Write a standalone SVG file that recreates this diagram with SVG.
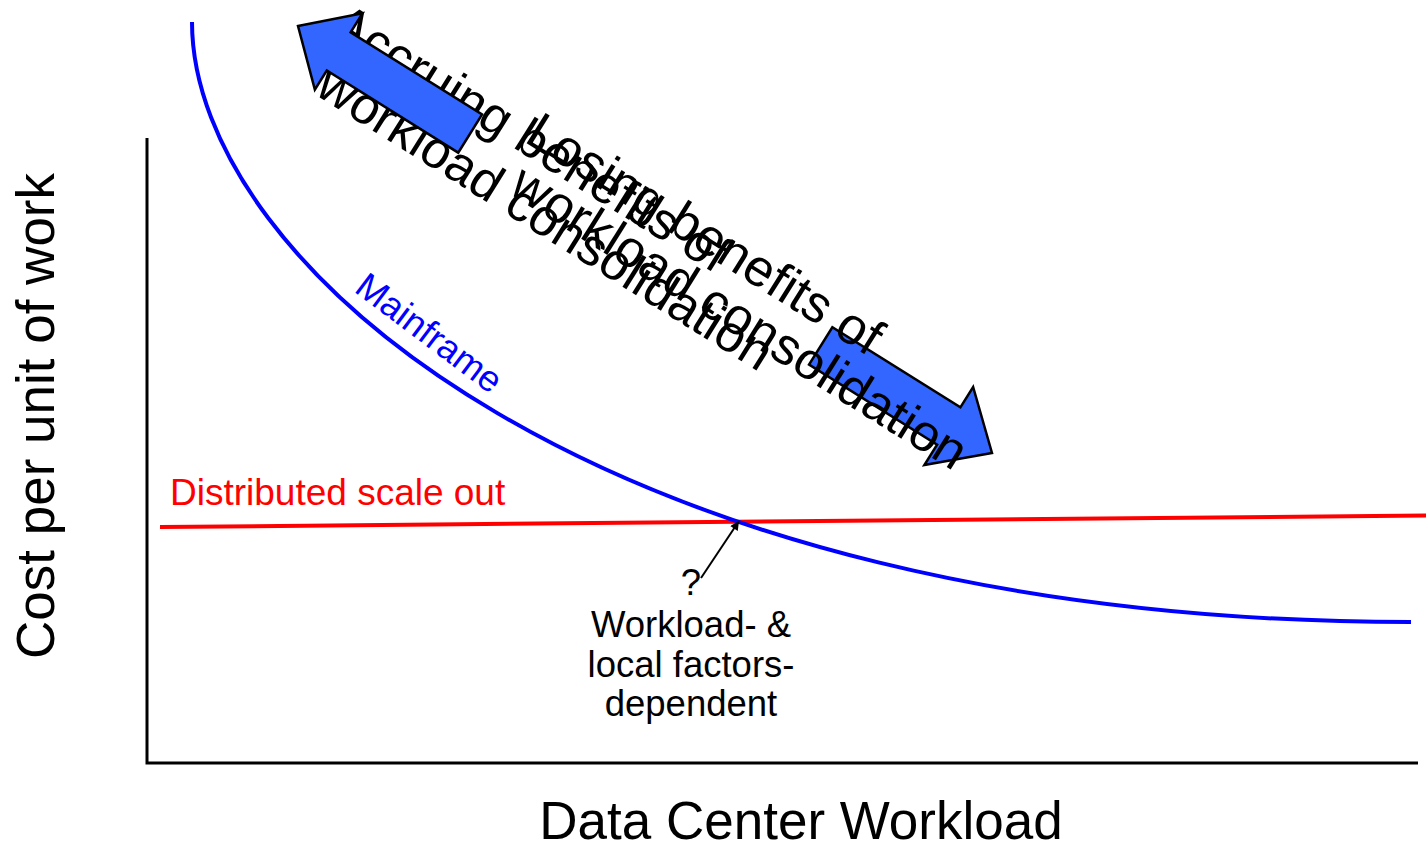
<svg xmlns="http://www.w3.org/2000/svg" width="1426" height="845" viewBox="0 0 1426 845">
<defs>
<style>
text{font-family:"Liberation Sans",Arial,sans-serif;}
.axlabel{font-size:53px;fill:#000;}
.lbl{font-size:36.5px;}
.rot{font-size:52px;fill:#000;}
.barrow{fill:#3366FF;stroke:#000;stroke-width:2.5;stroke-linejoin:miter;}
.axis{stroke:#000;stroke-width:3;fill:none;}
</style>
<marker id="ah" viewBox="0 0 10 10" refX="10" refY="5" markerWidth="5" markerHeight="4.5" orient="auto" markerUnits="strokeWidth">
<path d="M0,0 L10,5 L0,10 z" fill="#000"/>
</marker>
</defs>
<rect width="1426" height="845" fill="#fff"/>
<g id="axes">
<path class="axis" d="M147,138 L147,763 L1418,763"/>
</g>
<g id="y-label"><text class="axlabel" transform="translate(54,416) rotate(-90)" text-anchor="middle">Cost per unit of work</text></g>
<g id="x-label"><text class="axlabel" x="801" y="839" text-anchor="middle">Data Center Workload</text></g>
<g id="distributed">
<line x1="160" y1="527" x2="1426" y2="515.5" stroke="#FF0000" stroke-width="4"/>
<text x="170" y="505" fill="#FF0000" style="font-size:37px">Distributed scale out</text>
</g>
<g id="mainframe">
<path d="M192,22 C192,265 600,622 1411,622" fill="none" stroke="#0000FF" stroke-width="4"/>
<text class="lbl" transform="translate(353,291) rotate(37)" fill="#0000FF">Mainframe</text>
</g>
<g id="accruing-text">
<text class="rot" transform="translate(328,32) rotate(32)"><tspan x="0" y="0">Accruing benefits of</tspan><tspan x="20" y="60">workload consolidation</tspan></text>
</g>
<g id="left-arrow">
<polygon class="barrow" transform="translate(298,26) rotate(32)" points="0,0 48,-45 48,-22.5 203,-22.5 203,22.5 48,22.5 48,45"/>
</g>
<g id="right-arrow">
<polygon class="barrow" transform="translate(992,453) rotate(32)" points="0,0 -51,-46 -51,-22 -202,-22 -202,22 -51,22 -51,46"/>
</g>
<g id="losing-text">
<text class="rot" transform="translate(523,141) rotate(32)"><tspan x="0" y="0">Losing benefits of</tspan><tspan x="14" y="52">workload consolidation</tspan></text>
</g>
<g id="crossover-note">
<text class="lbl" x="691" y="595" text-anchor="middle" fill="#000">?</text>
<text class="lbl" text-anchor="middle" fill="#000"><tspan x="691" y="637">Workload- &amp;</tspan><tspan x="691" y="677">local factors-</tspan><tspan x="691" y="716">dependent</tspan></text>
</g>
<g id="connectors">
<line x1="701" y1="578" x2="739" y2="521" stroke="#000" stroke-width="2" marker-end="url(#ah)"/>
</g>
</svg>
